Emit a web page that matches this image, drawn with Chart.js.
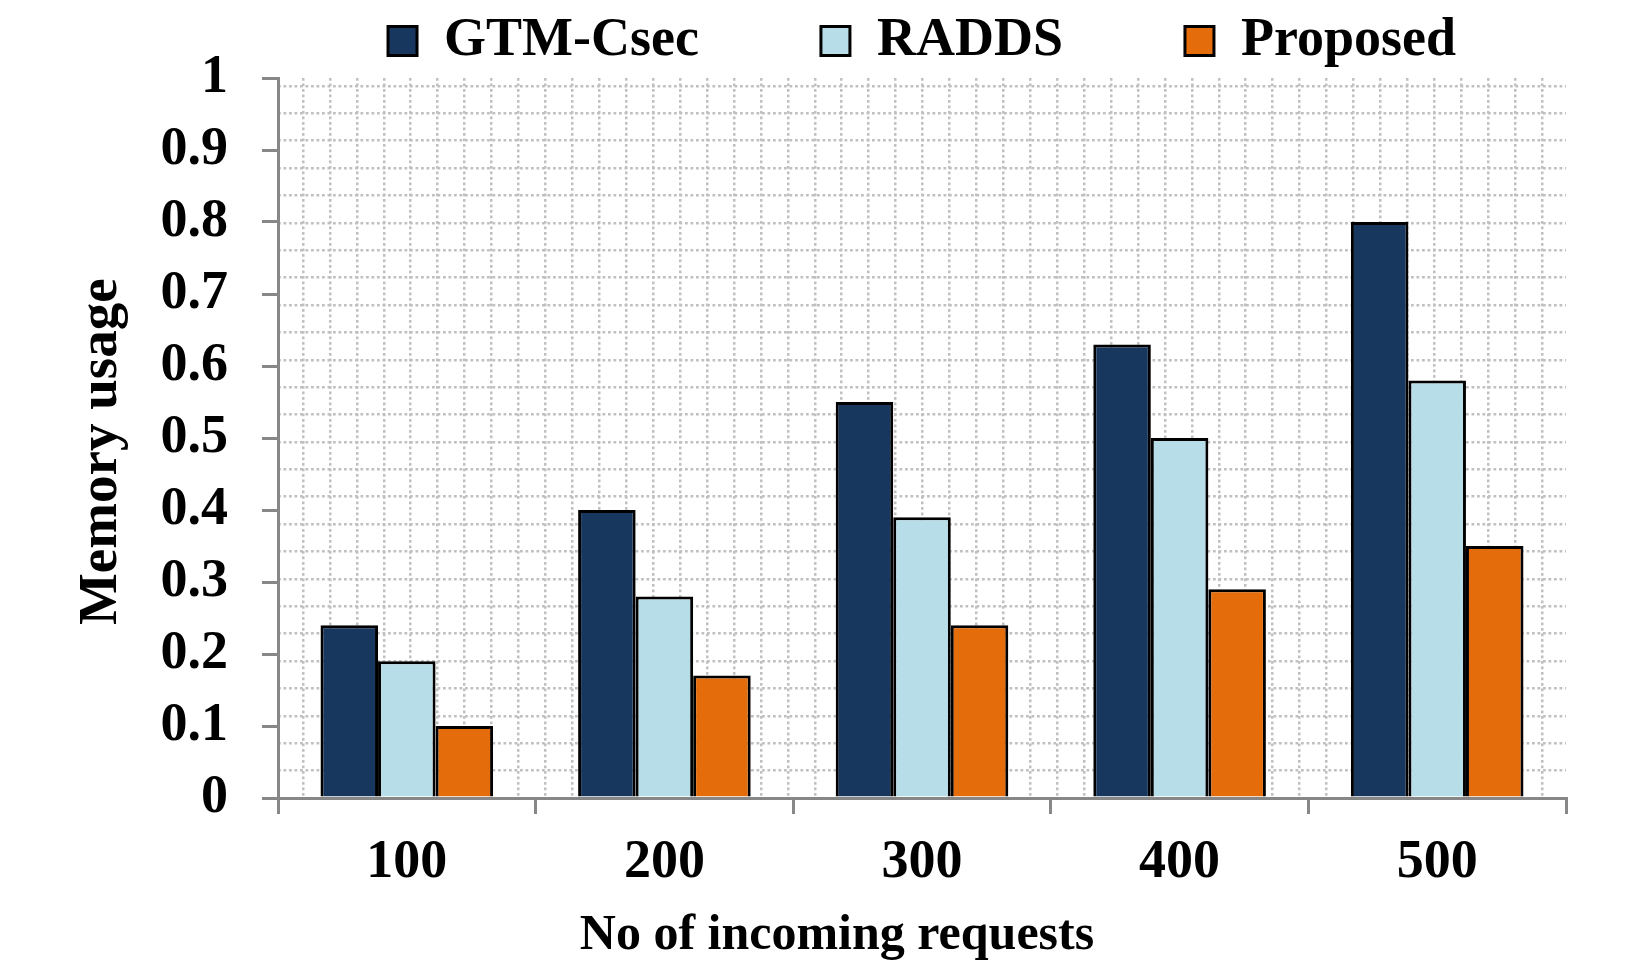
<!DOCTYPE html>
<html>
<head>
<meta charset="utf-8">
<title>Memory usage</title>
<script src="https://cdn.jsdelivr.net/npm/chart.js@4.4.0/dist/chart.umd.min.js"></script>
<style>
    html, body { margin: 0; padding: 0; background: #ffffff; }
    #wrap { width: 1644px; height: 980px; }
</style>
</head>
<body>
<div id="wrap"><canvas id="memoryChart" width="1644" height="980"></canvas></div>
<script>
// Values
var requestCounts = ['100', '200', '300', '400', '500'];
var gtmCsec = [0.24, 0.40, 0.55, 0.63, 0.80];
var radds = [0.19, 0.28, 0.39, 0.50, 0.58];
var proposed = [0.10, 0.17, 0.24, 0.29, 0.35];
var memoryTicks = ['0', '0.1', '0.2', '0.3', '0.4', '0.5', '0.6', '0.7', '0.8', '0.9', '1'];

var seriesNames = ['GTM-Csec', 'RADDS', 'Proposed'];
var seriesColors = ['#17375E', '#B7DEE8', '#E46C0A'];

var serif = "'Liberation Serif', 'Times New Roman', serif";
var axisGray = '#878787';
var dotGray = '#C0C0C0';

// trailing spaces widen the gap between legend entries
var legendGaps = ['        ', '        ', ''];

function boldFont(size) {
    return { family: serif, size: size, weight: 'bold', lineHeight: 1 };
}

var ctx = document.getElementById('memoryChart');

new Chart(ctx, {
    type: 'bar',
    data: {
        labels: requestCounts,
        datasets: [{
            label: seriesNames[0],
            data: gtmCsec,
            backgroundColor: seriesColors[0],
            borderColor: '#000000',
            borderWidth: 3
        }, {
            label: seriesNames[1],
            data: radds,
            backgroundColor: seriesColors[1],
            borderColor: '#000000',
            borderWidth: 3
        }, {
            label: seriesNames[2],
            data: proposed,
            backgroundColor: seriesColors[2],
            borderColor: '#000000',
            borderWidth: 3
        }]
    },
    options: {
        responsive: false,
        animation: false,
        devicePixelRatio: 1,
        categoryPercentage: 0.67,
        barPercentage: 1,
        layout: {
            padding: { left: 30, right: 0, top: 0, bottom: 0 }
        },
        plugins: {
            tooltip: { enabled: false },
            legend: {
                position: 'top',
                fullSize: false,
                labels: {
                    boxWidth: 29,
                    boxHeight: 29,
                    padding: 14,
                    color: '#000000',
                    font: boldFont(54),
                    generateLabels: function(chart) {
                        var items = Chart.defaults.plugins.legend.labels.generateLabels(chart);
                        items.forEach(function(item, i) {
                            item.text = item.text + legendGaps[i];
                            item.lineWidth = 3;
                            item.strokeStyle = '#000000';
                        });
                        return items;
                    }
                }
            },
            title: {
                display: true,
                position: 'bottom',
                text: 'No of incoming requests',
                color: '#000000',
                font: boldFont(50),
                padding: { top: 21, bottom: 19 }
            }
        },
        scales: {
            x: {
                afterFit: function(scale) {
                    scale.height = 92;
                },
                grid: {
                    offset: true,
                    drawOnChartArea: false,
                    color: axisGray,
                    lineWidth: 3,
                    tickLength: 16
                },
                border: { color: axisGray, width: 3 },
                ticks: {
                    color: '#000000',
                    font: boldFont(54),
                    padding: 22
                }
            },
            y: {
                min: 0,
                max: 1,
                afterFit: function(scale) {
                    scale.width = 248;
                },
                ticks: {
                    stepSize: 0.1,
                    color: '#000000',
                    font: boldFont(54),
                    padding: 34,
                    callback: function(value, index) {
                        return memoryTicks[index];
                    }
                },
                grid: {
                    drawOnChartArea: false,
                    color: axisGray,
                    lineWidth: 3,
                    tickLength: 16
                },
                border: { color: axisGray, width: 3 },
                title: {
                    display: true,
                    text: 'Memory usage  ',
                    color: '#000000',
                    font: boldFont(55),
                    padding: { top: 44, bottom: 0 }
                }
            },
            // square dotted background grid, not tied to the value ticks
            gridX: {
                type: 'linear',
                position: 'top',
                min: -0.908,
                max: 45.87,
                ticks: { display: false, stepSize: 1, includeBounds: false },
                grid: { color: dotGray, lineWidth: 2.5, drawTicks: false },
                border: { display: false, dash: [2.75, 2.75] }
            },
            gridY: {
                type: 'linear',
                position: 'right',
                min: 0,
                max: 26.29,
                afterFit: function(scale) {
                    scale.width = 78;
                },
                ticks: { display: false, stepSize: 1, includeBounds: false },
                grid: { color: dotGray, lineWidth: 2.5, drawTicks: false },
                border: { display: false, dash: [2.75, 2.75] }
            }
        }
    }
});
</script>
</body>
</html>
